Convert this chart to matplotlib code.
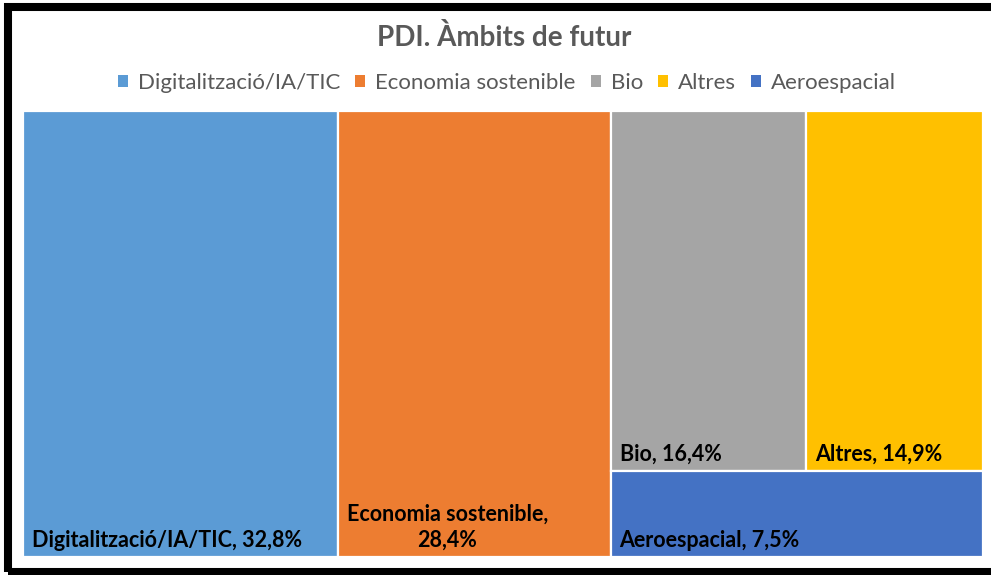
import matplotlib
matplotlib.use('Agg')
import matplotlib.pyplot as plt
from matplotlib.patches import Rectangle

plt.rcParams['font.family'] = ['Lato', 'DejaVu Sans']

# Data
categories = ['Digitalització/IA/TIC', 'Economia sostenible', 'Bio', 'Altres', 'Aeroespacial']
values = [32.8, 28.4, 16.4, 14.9, 7.5]
labels = ['Digitalització/IA/TIC, 32,8%', 'Economia sostenible,\n28,4%', 'Bio, 16,4%',
          'Altres, 14,9%', 'Aeroespacial, 7,5%']
colors = ['#5B9BD5', '#ED7D31', '#A5A5A5', '#FFC000', '#4472C4']

W, H = 991, 575
fig = plt.figure(figsize=(W / 100, H / 100), dpi=100)

# outer black frame (right side runs off the image)
fig.patches.append(Rectangle((8 / W, 3 / H), 1010 / W, 565 / H, transform=fig.transFigure,
                             fill=False, edgecolor='black', linewidth=5.8))

ax = fig.add_axes([23 / W, 1 - 557 / H, 960 / W, 446 / H])
total = sum(values)
ax.set_xlim(0, total)
ax.set_ylim(0, 100)
ax.axis('off')

# treemap layout: first two as full columns, last three in one column
rects = []
x = 0
for v in values[:2]:
    rects.append((x, 0, v, 100))
    x += v
rest = sum(values[2:])
top_share = (values[2] + values[3]) / rest
bottom_h = 100 * (1 - top_share)
xx = x
for v in values[2:4]:
    w = rest * v / (values[2] + values[3])
    rects.append((xx, bottom_h, w, 100 - bottom_h))
    xx += w
rects.append((x, 0, rest, bottom_h))

for (rx, ry, rw, rh), c in zip(rects, colors):
    ax.add_patch(Rectangle((rx, ry), rw, rh, facecolor=c, edgecolor='white', linewidth=1.6))

# data labels, bottom-left of each box
px = total / 960.0
py = 100 / 446.0
for (rx, ry, rw, rh), lab in zip(rects, labels):
    ax.text(rx + 9 * px, ry + 10 * py, lab, ha='left', va='baseline', fontsize=15.5,
            fontweight='bold', color='black', multialignment='center', linespacing=1.3)

fig.text(504 / W, 1 - 37 / H, 'PDI. Àmbits de futur', ha='center', va='center',
         fontsize=20, fontweight='bold', color='#595959')

handles = [Rectangle((0, 0), 1, 1, facecolor=c) for c in colors]
fig.legend(handles, categories, loc='center', bbox_to_anchor=(507 / W, 1 - 83 / H), ncol=5,
           frameon=False, fontsize=16, labelcolor='#595959', handlelength=0.45,
           handleheight=0.45, handletextpad=0.45, columnspacing=0.68)

fig.savefig('out.png', dpi=100, facecolor='white')
